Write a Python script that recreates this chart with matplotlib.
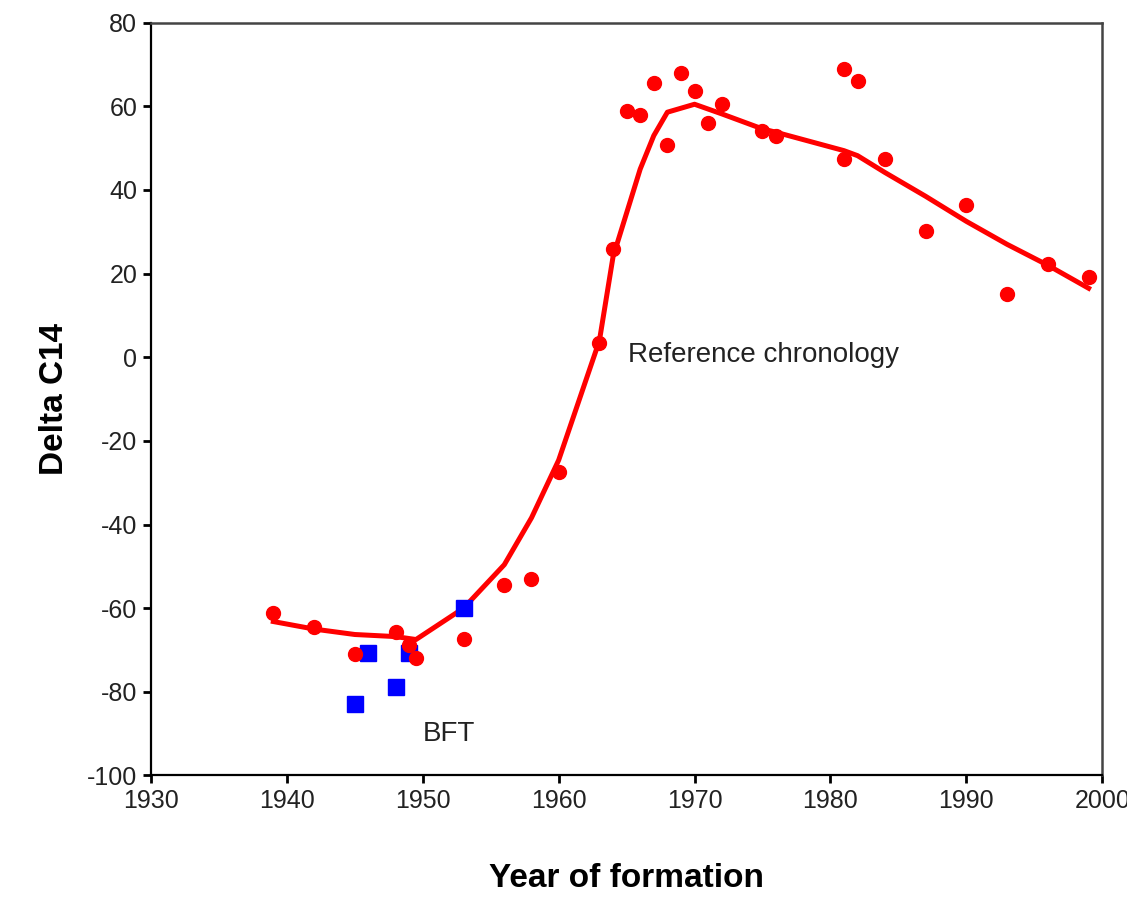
import matplotlib.pyplot as plt

# reference chronology samples (red dots)
ref_year = [1939, 1942, 1945, 1948, 1949, 1949.5, 1953, 1956, 1958, 1960,
            1963, 1964, 1965, 1966, 1967, 1968, 1969, 1970, 1971, 1972,
            1975, 1976, 1981, 1981, 1982, 1984, 1987, 1990, 1993, 1996, 1999]
ref_d14c = [-61.2, -64.6, -71, -65.6, -68.7, -71.8, -67.3, -54.4, -53, -27.5,
            3.3, 26, 59, 58, 65.5, 50.7, 68, 63.7, 56, 60.5,
            54, 53, 69, 47.5, 66, 47.5, 30.2, 36.5, 15.2, 22.4, 19.2]

# fitted chronology curve
fit_year = [1939, 1942, 1945, 1948, 1949.5, 1953, 1956, 1958, 1960, 1963,
            1964, 1966, 1967, 1968, 1970, 1972, 1975, 1976, 1981, 1982,
            1984, 1987, 1990, 1993, 1996, 1999]
fit_d14c = [-63.2, -65, -66.3, -66.8, -67.5, -60, -49.6, -38.4, -24.6, 4,
            24, 45, 53, 58.6, 60.5, 58.2, 54.6, 53.8, 49.4, 48.2,
            44.2, 38.5, 32.5, 27, 22, 16.5]

# BFT samples (blue squares)
bft_year = [1945, 1946, 1948, 1949, 1953]
bft_d14c = [-83, -70.7, -78.8, -70.7, -60]

plt.rcParams['font.family'] = ['Liberation Sans', 'DejaVu Sans']
plt.rcParams['axes.unicode_minus'] = False

fig = plt.figure(figsize=(11.27, 9.08), dpi=100)
ax = fig.add_axes([0.134, 0.146, 0.844, 0.829])

ax.plot(fit_year, fit_d14c, color='#ff0000', lw=3.6, zorder=2)
ax.plot(ref_year, ref_d14c, 'o', color='#ff0000', ms=10, zorder=3)
ax.plot(bft_year, bft_d14c, 's', color='#0000ff', ms=12, zorder=2.5)

ax.text(1965.1, 0.5, 'Reference chronology', fontsize=20, va='center', ha='left', color='#222222')
ax.text(1950.0, -90.2, 'BFT', fontsize=20, va='center', ha='left', color='#222222')

ax.set_xlim(1930, 2000)
ax.set_ylim(-100, 80)
ax.set_xticks(range(1930, 2001, 10))
ax.set_yticks(range(-100, 81, 20))
ax.tick_params(direction='out', length=6, width=2, labelsize=18, pad=4, labelcolor='#222222')

for s in ['left', 'bottom']:
    ax.spines[s].set_linewidth(1.6)
for s in ['top', 'right']:
    ax.spines[s].set_linewidth(1.8)
    ax.spines[s].set_color('#444444')

ax.set_xlabel('Year of formation', fontsize=24, fontweight='bold', labelpad=36)
ax.set_ylabel('Delta C14', fontsize=24, fontweight='bold', labelpad=12)

fig.savefig('out.png', dpi=100)
